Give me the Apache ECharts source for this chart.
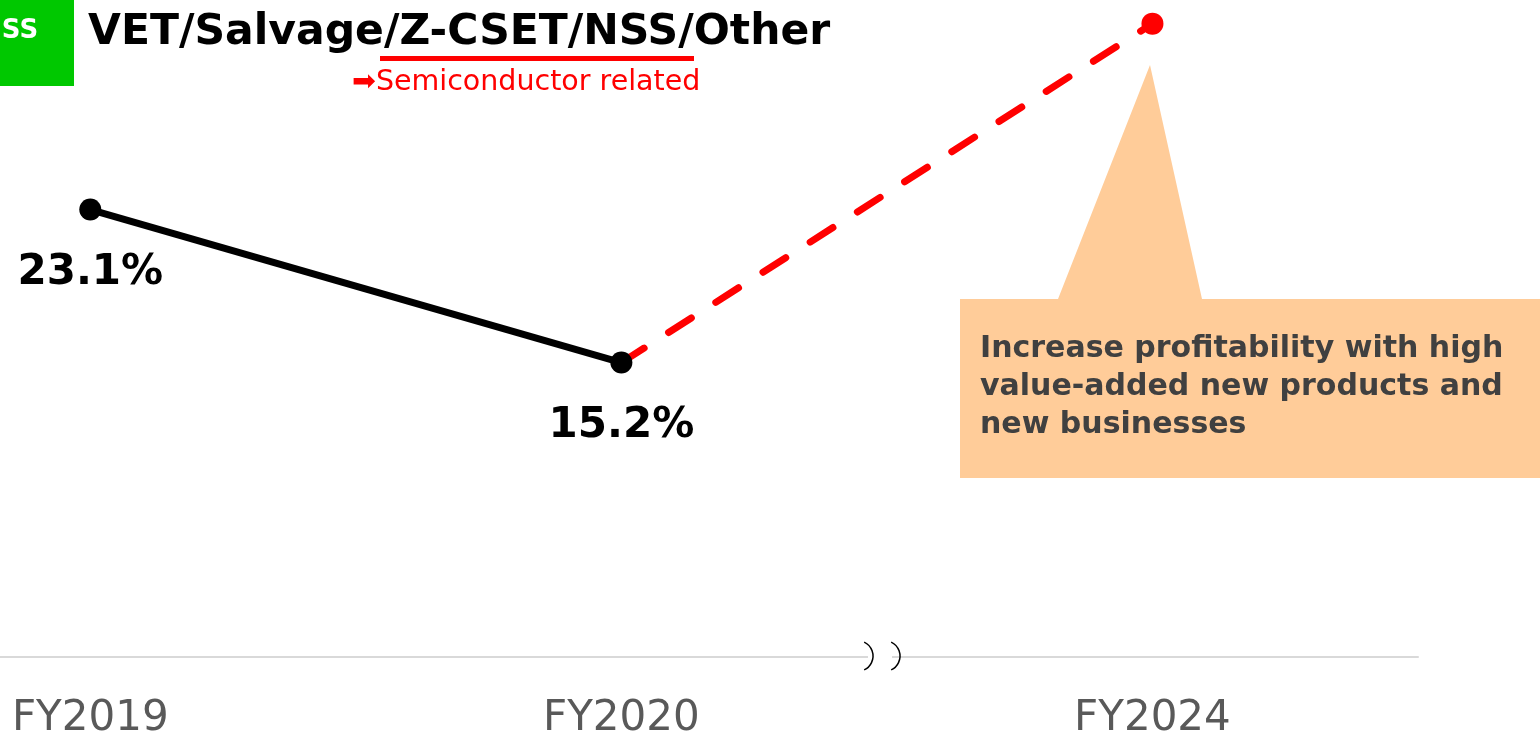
<!DOCTYPE html>
<html>
<head>
    <meta charset="utf-8">
    <title>VET/Salvage/Z-CSET/NSS/Other</title>
    <style>
        html, body { margin: 0; padding: 0; background: #fff; }
        #main { width: 1540px; height: 734px; }
    </style>
</head>
<body>
<div id="main"></div>
<script src="https://cdn.jsdelivr.net/npm/echarts@6/dist/echarts.min.js"></script>
<script type="text/javascript">
    // 数据
    const categories = ['FY2019', 'FY2020', 'FY2024'];
    const actualValues = [23.1, 15.2, null];   // 实绩 (实线)
    const targetValues = [null, 15.2, 32.7];   // 目标 (虚线)
    const labelValues = [23.1, 15.2, null];

    const chart = echarts.init(document.getElementById('main'));

    function toPoints(values) {
        return values.map(function (v, i) {
            return [i, v];
        });
    }

    const font = 'DejaVu Sans, Verdana, sans-serif';

    const option = {
        animation: false,
        grid: {
            left: 0,
            right: 122,
            top: 0,
            height: 657,
            outerBoundsMode: 'none'
        },
        xAxis: {
            type: 'value',
            min: -0.17,
            max: 2.5,
            axisLine: {
                show: true,
                lineStyle: { color: '#d9d9d9', width: 2 }
            },
            axisTick: { show: false },
            splitLine: { show: false },
            axisLabel: {
                customValues: [0, 1, 2],
                margin: 41,
                color: '#595959',
                fontFamily: font,
                fontSize: 42,
                formatter: function (v) {
                    return categories[Math.round(v)] || '';
                }
            }
        },
        yAxis: {
            type: 'value',
            min: 0,
            max: 33.92,
            show: false,
            splitLine: { show: false }
        },
        series: [
            {
                type: 'line',
                data: toPoints(targetValues),
                symbol: 'circle',
                symbolSize: function (val) {
                    return val[0] === 2 ? 22 : 0;
                },
                itemStyle: { color: '#ff0000' },
                lineStyle: {
                    color: '#ff0000',
                    width: 7,
                    type: [27, 29],
                    cap: 'round'
                },
                z: 2
            },
            {
                type: 'line',
                data: toPoints(actualValues),
                symbol: 'circle',
                symbolSize: 22,
                itemStyle: { color: '#000' },
                lineStyle: { color: '#000', width: 7 },
                label: {
                    show: true,
                    position: 'bottom',
                    distance: 32,
                    color: '#000',
                    fontFamily: font,
                    fontWeight: 'bold',
                    fontSize: 42,
                    formatter: function (p) {
                        const v = labelValues[p.dataIndex];
                        return v == null ? '' : v.toFixed(1) + '%';
                    }
                },
                z: 3
            }
        ],
        graphic: [
            // 左上绿色标签
            {
                type: 'rect',
                shape: { x: 0, y: 0, width: 74, height: 86 },
                style: { fill: '#00c800' },
                z: 100
            },
            {
                type: 'text',
                x: 20, y: 31,
                style: {
                    text: 'SS', fill: '#fff', font: 'bold 26px ' + font,
                    textVerticalAlign: 'middle', textAlign: 'center'
                },
                z: 101
            },
            // 标题
            {
                type: 'text',
                x: 88, y: 33,
                style: {
                    text: 'VET/Salvage/Z-CSET/NSS/Other', fill: '#000',
                    font: 'bold 42.5px ' + font,
                    textVerticalAlign: 'middle'
                },
                z: 100
            },
            {
                type: 'rect',
                shape: { x: 380, y: 56, width: 314, height: 5 },
                style: { fill: '#ff0000' },
                z: 100
            },
            {
                type: 'text',
                x: 352, y: 83,
                style: {
                    text: '➡Semiconductor related', fill: '#ff0000',
                    font: '28.5px ' + font,
                    textVerticalAlign: 'middle'
                },
                z: 100
            },
            // 对话框
            {
                type: 'polygon',
                shape: {
                    points: [[960, 299], [1058, 299], [1150, 65], [1202, 299],
                        [1540, 299], [1540, 478], [960, 478]]
                },
                style: { fill: '#ffcc99' },
                z: 100
            },
            {
                type: 'text',
                x: 980, y: 330,
                style: {
                    text: 'Increase profitability with high\nvalue-added new products and\nnew businesses',
                    fill: '#404040',
                    font: 'bold 30px ' + font,
                    lineHeight: 38,
                    textVerticalAlign: 'top'
                },
                z: 101
            },
            // 轴断开符号
            {
                type: 'rect',
                shape: { x: 868, y: 650, width: 24, height: 14 },
                style: { fill: '#fff' },
                z: 100
            },
            {
                type: 'arc',
                shape: { cx: 857.6, cy: 656, r: 15.4, startAngle: -1.13, endAngle: 1.13 },
                style: { stroke: '#000', lineWidth: 1.5, fill: null },
                z: 101
            },
            {
                type: 'arc',
                shape: { cx: 884.6, cy: 656, r: 15.4, startAngle: -1.13, endAngle: 1.13 },
                style: { stroke: '#000', lineWidth: 1.5, fill: null },
                z: 101
            }
        ]
    };
    chart.setOption(option);
    window.addEventListener('resize', chart.resize);
</script>
</body>
</html>
